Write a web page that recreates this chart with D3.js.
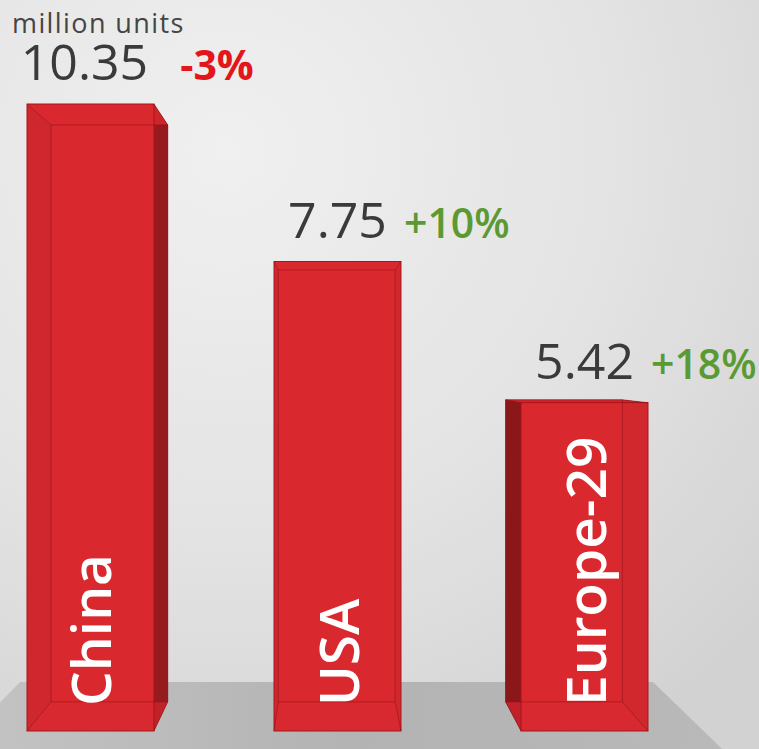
<!DOCTYPE html>
<html>
<head>
<meta charset="utf-8">
<script src="https://cdn.jsdelivr.net/npm/d3@7"></script>
<style>
  html, body { margin: 0; padding: 0; background: #e4e4e4; }
  svg { display: block; }
</style>
</head>
<body>
<script>
// ---- data ----
const categories = ["China", "USA", "Europe-29"];
const values = [10.35, 7.75, 5.42];
const changes = [-3, 10, 18];
const unitLabel = "million units";

// ---- layout ----
const W = 759, H = 749;
const baseY = 731;
const vp = { x: 327, y: 366 }; // vanishing point
const k = 0.92;                // depth scale for back face

const svg = d3.select("body").append("svg").attr("width", W).attr("height", H);
const defs = svg.append("defs");

const bg = defs.append("radialGradient").attr("id", "bg")
  .attr("cx", "0.3").attr("cy", "0.2").attr("r", "0.95");
bg.append("stop").attr("offset", "0").attr("stop-color", "#f0f0f0");
bg.append("stop").attr("offset", "0.55").attr("stop-color", "#e3e3e3");
bg.append("stop").attr("offset", "1").attr("stop-color", "#d2d2d2");
svg.append("rect").attr("width", W).attr("height", H).attr("fill", "url(#bg)");

const floorG = defs.append("linearGradient").attr("id", "floor")
  .attr("x1", "0").attr("x2", "1").attr("y1", "0").attr("y2", "0");
floorG.append("stop").attr("offset", "0").attr("stop-color", "#c2c2c2");
floorG.append("stop").attr("offset", "0.5").attr("stop-color", "#b3b3b3");
floorG.append("stop").attr("offset", "1").attr("stop-color", "#b9b9b9");

const x = d3.scaleBand().domain(categories).range([27, 648]).paddingInner(0.486).paddingOuter(0);
const y = d3.scaleLinear().domain([0, 10.35]).range([baseY, 104]);

const P = (px, py) => [vp.x + k * (px - vp.x), vp.y + k * (py - vp.y)];

// floor: edges converge to the vanishing point
const floorTop = 682;
const fl = 20, fr = 653;
function alongToY(px, py, ty) {
  const t = (ty - vp.y) / (py - vp.y);
  return vp.x + t * (px - vp.x);
}
function alongToX(px, py, tx) {
  const t = (tx - vp.x) / (px - vp.x);
  return vp.y + t * (py - vp.y);
}
const floorPts = [
  [fl, floorTop], [fr, floorTop], [alongToY(fr, floorTop, H), H], [0, H], [0, alongToX(fl, floorTop, 0)]
];
svg.append("polygon").attr("points", floorPts.map(p => p.join(",")).join(" "))
  .attr("fill", "url(#floor)");

const line = d3.line();

const bars = svg.append("g").selectAll("g").data(categories).join("g");

bars.each(function(c, i) {
  const g = d3.select(this);
  const x0 = x(c), x1 = x(c) + x.bandwidth();
  const t = y(values[i]), b = y(0);
  const fTL = [x0, t], fTR = [x1, t], fBR = [x1, b], fBL = [x0, b];
  const bTL = P(x0, t), bTR = P(x1, t), bBR = P(x1, b), bBL = P(x0, b);

  g.append("path").attr("d", line([bTL, bTR, bBR, bBL]) + "Z").attr("fill", "#cf252b");
  g.append("path").attr("d", line([fTL, bTL, bBL, fBL]) + "Z").attr("fill", "#8a181b");
  g.append("path").attr("d", line([fTR, bTR, bBR, fBR]) + "Z").attr("fill", "#951b1f");
  g.append("path").attr("d", line([fTL, fTR, bTR, bTL]) + "Z").attr("fill", "#cc252b");
  g.append("path").attr("d", line([fBL, fBR, bBR, bBL]) + "Z").attr("fill", "#c1222a");
  g.append("rect").attr("x", x0).attr("y", t).attr("width", x1 - x0).attr("height", b - t)
    .attr("fill", "#da2a30").attr("fill-opacity", 0.85)
    .attr("stroke", "#a8161b").attr("stroke-width", 1);
  const edge = "rgba(135,12,18,0.5)";
  g.append("path").attr("d", line([bTL, bTR, bBR, bBL]) + "Z")
    .attr("fill", "none").attr("stroke", edge).attr("stroke-width", 1);
  [[fTL, bTL], [fTR, bTR], [fBR, bBR], [fBL, bBL]].forEach(s => {
    g.append("path").attr("d", line(s)).attr("fill", "none").attr("stroke", edge).attr("stroke-width", 1);
  });

  const cx = (x0 + x1) / 2 + 21, cy = b - 25;
  g.append("text")
    .attr("transform", `translate(${cx},${cy}) rotate(-90)`)
    .attr("font-family", "'Open Sans', sans-serif")
    .attr("font-size", 55)
    .attr("font-weight", 600)
    .attr("fill", "#ffffff")
    .text(c);

  const vt = g.append("text")
    .attr("x", (x0 + x1) / 2 - (i === 0 ? 6 : 0)).attr("y", t - 24)
    .attr("text-anchor", "middle")
    .attr("font-family", "'Open Sans', sans-serif")
    .attr("font-size", 50)
    .attr("fill", "#3a3a3a")
    .text(d3.format(".2f")(values[i]));
  const bb = vt.node().getBBox();
  const ch = changes[i];
  g.append("text")
    .attr("x", bb.x + bb.width + (i === 0 ? 32 : 17)).attr("y", t - 24)
    .attr("font-family", "'Open Sans', sans-serif")
    .attr("font-size", 41)
    .attr("font-weight", ch < 0 ? 700 : 600)
    .attr("fill", ch < 0 ? "#e3161c" : "#5b9a33")
    .text((ch > 0 ? "+" : "") + ch + "%");
});

svg.append("text")
  .attr("x", 12).attr("y", 33)
  .attr("font-family", "'Open Sans', sans-serif")
  .attr("font-size", 27)
  .attr("letter-spacing", 1.4)
  .attr("fill", "#454545")
  .text(unitLabel);
</script>
</body>
</html>
